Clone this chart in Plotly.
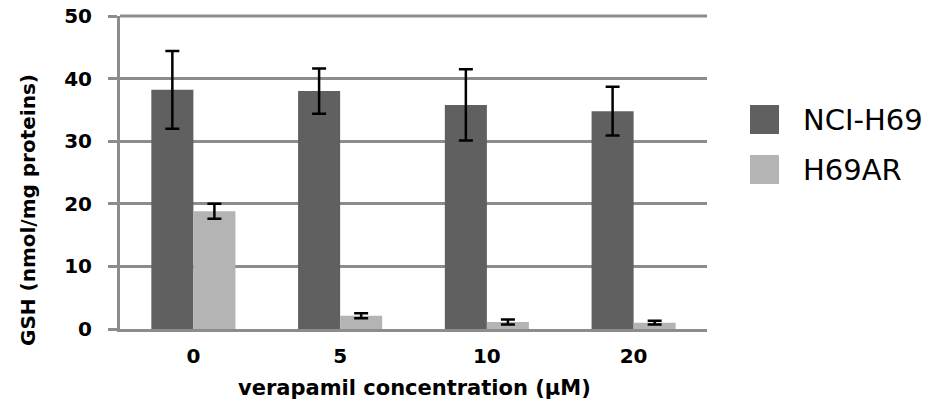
import plotly.graph_objects as go

# GSH content by verapamil concentration for two cell lines
concentrations = ["0", "5", "10", "20"]
series_names = ["NCI-H69", "H69AR"]
nci_h69_mean = [38.2, 38.0, 35.8, 34.8]
nci_h69_err = [6.2, 3.6, 5.7, 3.9]
h69ar_mean = [18.8, 2.1, 1.1, 1.0]
h69ar_err = [1.2, 0.4, 0.4, 0.3]
y_ticks = [0, 10, 20, 30, 40, 50]

dark = "#606060"
light = "#b4b4b4"
grid = "#8c8c8c"

fig = go.Figure()
for name, means, errs, color in [
    (series_names[0], nci_h69_mean, nci_h69_err, dark),
    (series_names[1], h69ar_mean, h69ar_err, light),
]:
    fig.add_trace(go.Bar(
        x=concentrations, y=means, name=name,
        marker=dict(color=color, line=dict(width=0)),
        error_y=dict(type="data", array=errs, visible=True,
                     color="#000000", thickness=2.5, width=7),
    ))

# Plot area spans x 120..707 px, y 16..329 px
def px_x(p):
    return (p - 120) / 587

def px_y(p):
    return (329 - p) / 313

shapes = []
annotations = []

# Plotly skips the gridline on the top edge of the range; draw it at the top of the plot area
shapes.append(dict(type="line", xref="paper", yref="paper", x0=0, x1=1,
                   y0=1, y1=1, layer="above",
                   line=dict(color=grid, width=3)))

legend_rows = [(105, 134), (155, 184)]
for (top, bottom), name, color in zip(legend_rows, series_names, [dark, light]):
    shapes.append(dict(type="rect", xref="paper", yref="paper",
                       x0=px_x(750), x1=px_x(779), y0=px_y(bottom), y1=px_y(top),
                       fillcolor=color, line=dict(width=0)))
    annotations.append(dict(text=name, xref="paper", yref="paper",
                            x=px_x(801), y=px_y((top + bottom) / 2),
                            xanchor="left", yanchor="middle", showarrow=False,
                            font=dict(family="DejaVu Sans", size=29, color="#000000")))

annotations.append(dict(text="<b>GSH (nmol/mg proteins)</b>", xref="paper", yref="paper",
                        x=px_x(28), y=px_y(210), textangle=-90, showarrow=False,
                        xanchor="center", yanchor="middle",
                        font=dict(family="DejaVu Sans", size=20, color="#000000")))
annotations.append(dict(text="<b>verapamil concentration (µM)</b>", xref="paper", yref="paper",
                        x=px_x(415), y=px_y(388), showarrow=False,
                        xanchor="center", yanchor="middle",
                        font=dict(family="DejaVu Sans", size=21, color="#000000")))

fig.update_layout(
    width=929, height=410,
    margin=dict(l=120, r=222, t=16, b=81, autoexpand=False),
    paper_bgcolor="#ffffff", plot_bgcolor="#ffffff",
    barmode="group", bargap=0.427, bargroupgap=0,
    showlegend=False,
    shapes=shapes, annotations=annotations,
    xaxis=dict(
        type="category", showgrid=False, showline=True, linecolor=grid, linewidth=3,
        ticks="", automargin=False,
        tickfont=dict(family="DejaVu Sans", size=20, color="#000000", weight="bold"),
        ticklabelstandoff=7,
    ),
    yaxis=dict(
        range=[0, 50], tickvals=y_ticks, showgrid=True, gridcolor=grid, gridwidth=3,
        zeroline=False, showline=True, linecolor=grid, linewidth=3,
        ticks="outside", ticklen=9, tickwidth=3, tickcolor=grid, automargin=False,
        tickfont=dict(family="DejaVu Sans", size=20, color="#000000", weight="bold"),
        ticklabelstandoff=12,
    ),
)

fig.write_html("out.html")
